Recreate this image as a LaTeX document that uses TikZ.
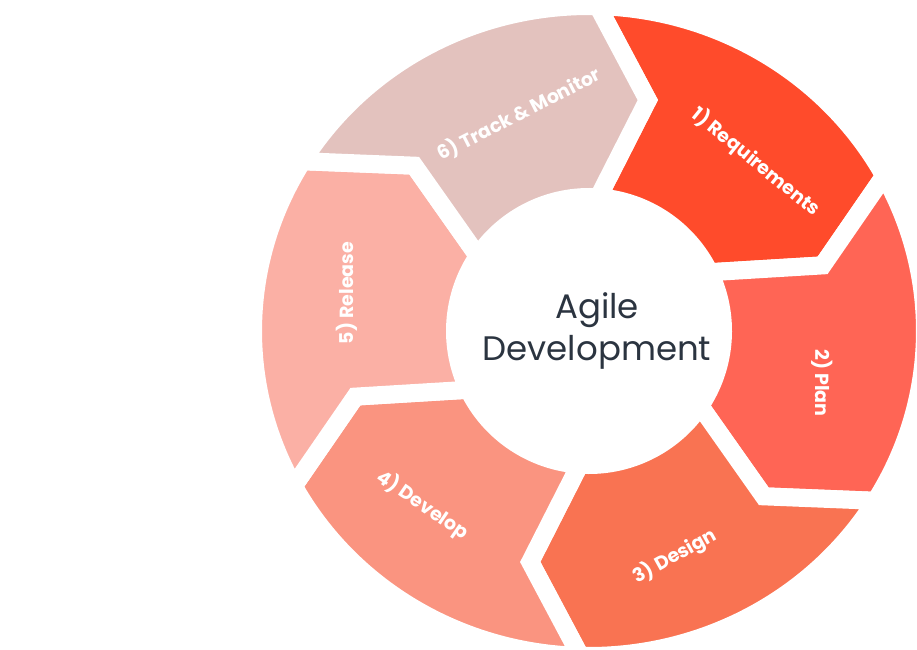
\documentclass[tikz,border=0pt]{standalone}
\usepackage{fontspec}
\setmainfont{Poppins}

\definecolor{reqred}{HTML}{FF4B2B}
\definecolor{planred}{HTML}{FF6555}
\definecolor{designorange}{HTML}{F97352}
\definecolor{devsalmon}{HTML}{FA9480}
\definecolor{relpink}{HTML}{FBB0A5}
\definecolor{trackrose}{HTML}{E3C2BE}
\definecolor{hubgrey}{HTML}{2B3440}

\begin{document}
\begin{tikzpicture}[x=1pt,y=1pt,
                    piece/.style={fill=#1,draw=white,line width=18pt,line join=miter},
                    stage/.style={text=white,font=\fontsize{19}{21}\selectfont\bfseries},
                    hub/.style={text=hubgrey,align=center,font=\fontsize{34}{42}\selectfont}]

  \useasboundingbox (0,0) rectangle (917,649);
  \coordinate (c) at (589,318);

  % the six arrow pieces, clockwise from top right
  \begin{scope}[shift={(c)}]
    \foreach \col [count=\i from 0] in {reqred,planred,designorange,devsalmon,relpink,trackrose} {
      \pgfmathsetmacro{\ain}{26-60*\i}
      \pgfmathsetmacro{\amid}{16-60*\i}
      \pgfmathsetmacro{\aout}{28.5-60*\i}
      \pgfmathsetmacro{\bin}{\ain+60}
      \pgfmathsetmacro{\bmid}{\amid+60}
      \pgfmathsetmacro{\bout}{\aout+60}
      \filldraw[piece=\col] (\bout:336 and 325)
        arc[start angle=\bout, end angle=\aout, x radius=336, y radius=325]
        -- (\amid:243 and 238) -- (\ain:134)
        arc[start angle=\ain, end angle=\bin, radius=134]
        -- (\bmid:243 and 238) -- cycle;
    }
  \end{scope}

  \node[hub] (agile) at (597,318) {Agile\\Development};

  \node[stage,rotate=-39] (req) at (756,487) {1) Requirements};
  \node[stage,rotate=-90] (plan) at (822,266) {2) Plan};
  \node[stage,rotate=29] (design) at (675,93) {3) Design};
  \node[stage,rotate=-34.5] (develop) at (423,144) {4) Develop};
  \node[stage,rotate=90] (release) at (347,356) {5) Release};
  \node[stage,rotate=27] (track) at (519,535) {6) Track \& Monitor};
\end{tikzpicture}
\end{document}
